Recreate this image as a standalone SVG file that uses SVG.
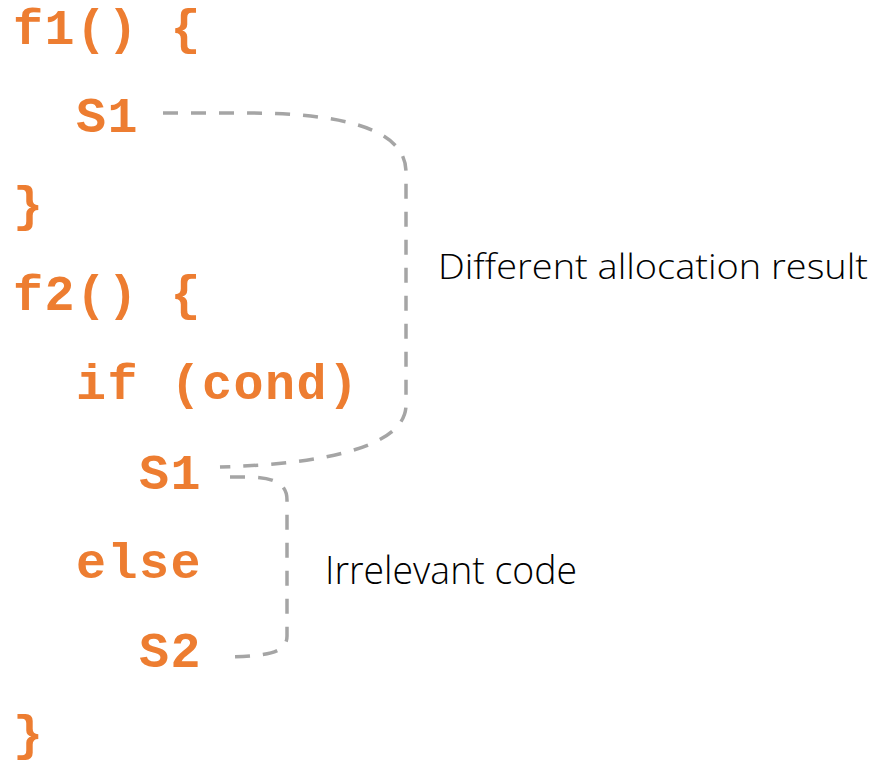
<svg xmlns="http://www.w3.org/2000/svg" width="876" height="767" viewBox="0 0 876 767">
<style>
.code{font-family:"Liberation Mono","Courier New",monospace;font-weight:bold;font-size:50px;letter-spacing:1.5px;fill:#ED7D31;white-space:pre}
.lbl{font-family:"Open Sans","Liberation Sans",sans-serif;font-weight:300;fill:#000}
.conn{fill:none;stroke:#A5A5A5;stroke-width:3.5;stroke-dasharray:15 13}
</style>
<rect width="876" height="767" fill="#fff"/>
<g id="code">
<text class="code" x="13" y="44" xml:space="preserve">f1() {</text>
<text class="code" x="76" y="132">S1</text>
<text class="code" x="13" y="221">}</text>
<text class="code" x="13" y="310" xml:space="preserve">f2() {</text>
<text class="code" x="76" y="399" xml:space="preserve">if (cond)</text>
<text class="code" x="139" y="489">S1</text>
<text class="code" x="76" y="578">else</text>
<text class="code" x="139" y="667">S2</text>
<text class="code" x="13" y="750">}</text>
</g>
<g id="connectors">
<path class="conn" d="M163 113 L245 113 C340 113 406 128 406 172 L406 405 C406 445 330 464 220 467"/>
<path class="conn" d="M230 477 L252 477 C278 478 287 486 287 500 L287 636 C287 652 270 656 228 657"/>
</g>
<g id="label1"><text class="lbl" x="438" y="279" font-size="35" textLength="430" lengthAdjust="spacingAndGlyphs">Different allocation result</text></g>
<g id="label2"><text class="lbl" x="325" y="584" font-size="39" textLength="252" lengthAdjust="spacingAndGlyphs">Irrelevant code</text></g>
</svg>
